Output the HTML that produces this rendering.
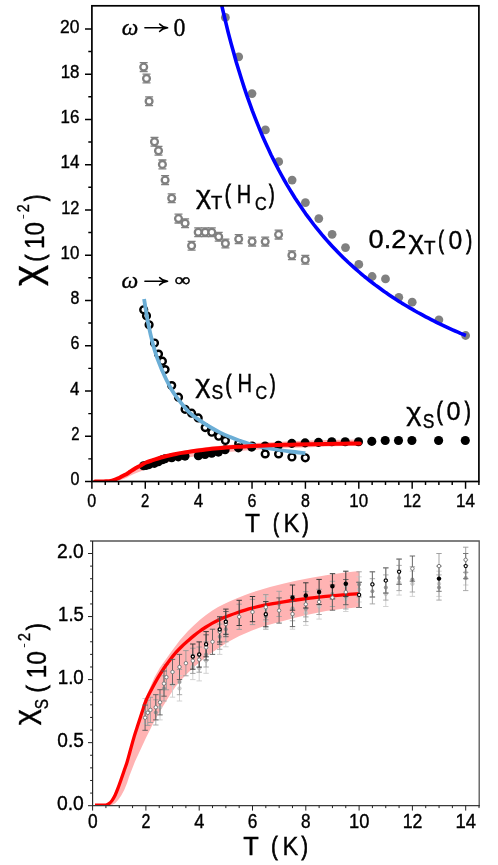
<!DOCTYPE html><html><head><meta charset="utf-8"><style>html,body{margin:0;padding:0;background:#fff}svg{display:block;will-change:transform}</style></head><body><svg width="498" height="865" viewBox="0 0 498 865">
<rect width="498" height="865" fill="#fff"/>
<clipPath id="ct"><rect x="91.9" y="5.8" width="387.0" height="475.7"/></clipPath>
<g clip-path="url(#ct)">
<polygon points="104.0,481.5 107.5,481.2 110.5,480.7 113.8,479.6 116.9,478.3 119.9,476.8 122.9,475.2 125.9,473.7 128.9,471.8 133.2,469.0 137.1,466.9 140.9,464.7 144.8,462.5 149.6,460.4 154.4,458.5 160.0,456.7 165.9,455.2 172.5,453.6 180.0,451.8 188.0,450.1 194.0,449.1 200.0,448.1 206.0,447.3 212.0,446.5 218.1,445.9 224.1,445.3 230.0,444.8 237.0,444.3 245.1,443.7 252.0,443.2 260.0,442.8 270.0,442.3 285.0,441.6 296.0,441.1 310.0,440.6 326.0,440.1 343.0,439.7 359.3,439.4 359.3,445.9 343.0,446.1 326.0,446.6 310.0,447.2 296.0,447.7 285.0,448.2 270.0,449.0 260.0,449.5 252.0,450.1 239.3,451.0 228.0,452.1 219.9,453.1 212.0,454.0 206.0,454.8 200.1,455.7 194.1,456.6 188.0,457.6 182.0,458.8 176.0,460.0 170.1,461.6 165.9,462.8 158.0,465.1 151.9,467.2 146.0,469.3 140.8,471.3 135.0,473.6 129.0,476.3 127.1,477.4 124.1,478.7 121.1,479.7 118.1,480.5 115.1,481.1 112.0,481.4 109.0,481.5" fill="#ffb3b3"/>
<circle cx="225.4" cy="17.4" r="4.4" fill="#808080"/>
<circle cx="238.7" cy="56.8" r="4.4" fill="#808080"/>
<circle cx="252.0" cy="93.6" r="4.4" fill="#808080"/>
<circle cx="265.4" cy="129.9" r="4.4" fill="#808080"/>
<circle cx="278.7" cy="161.7" r="4.4" fill="#808080"/>
<circle cx="292.1" cy="180.1" r="4.4" fill="#808080"/>
<circle cx="305.4" cy="202.6" r="4.4" fill="#808080"/>
<circle cx="318.8" cy="218.6" r="4.4" fill="#808080"/>
<circle cx="332.1" cy="234.3" r="4.4" fill="#808080"/>
<circle cx="345.5" cy="247.6" r="4.4" fill="#808080"/>
<circle cx="358.8" cy="264.4" r="4.4" fill="#808080"/>
<circle cx="372.1" cy="276.5" r="4.4" fill="#808080"/>
<circle cx="385.5" cy="278.9" r="4.4" fill="#808080"/>
<circle cx="398.8" cy="297.3" r="4.4" fill="#808080"/>
<circle cx="412.2" cy="302.2" r="4.4" fill="#808080"/>
<circle cx="438.9" cy="319.8" r="4.4" fill="#808080"/>
<circle cx="465.6" cy="335.5" r="4.4" fill="#808080"/>
<path d="M139.7 62.7h8M139.7 71.5h8" stroke="#808080" stroke-width="1.3" fill="none"/>
<circle cx="143.7" cy="67.1" r="3.4" fill="#fff" stroke="#808080" stroke-width="2.3"/>
<path d="M142.5 74.1h8M142.5 82.9h8" stroke="#808080" stroke-width="1.3" fill="none"/>
<circle cx="146.5" cy="78.5" r="3.4" fill="#fff" stroke="#808080" stroke-width="2.3"/>
<path d="M145.1 96.8h8M145.1 105.6h8" stroke="#808080" stroke-width="1.3" fill="none"/>
<circle cx="149.1" cy="101.2" r="3.4" fill="#fff" stroke="#808080" stroke-width="2.3"/>
<path d="M150.5 137.4h8M150.5 146.2h8" stroke="#808080" stroke-width="1.3" fill="none"/>
<circle cx="154.5" cy="141.8" r="3.4" fill="#fff" stroke="#808080" stroke-width="2.3"/>
<path d="M154.5 146.4h8M154.5 155.2h8" stroke="#808080" stroke-width="1.3" fill="none"/>
<circle cx="158.5" cy="150.8" r="3.4" fill="#fff" stroke="#808080" stroke-width="2.3"/>
<path d="M158.4 160.0h8M158.4 168.8h8" stroke="#808080" stroke-width="1.3" fill="none"/>
<circle cx="162.4" cy="164.4" r="3.4" fill="#fff" stroke="#808080" stroke-width="2.3"/>
<path d="M161.1 175.7h8M161.1 184.5h8" stroke="#808080" stroke-width="1.3" fill="none"/>
<circle cx="165.1" cy="180.1" r="3.4" fill="#fff" stroke="#808080" stroke-width="2.3"/>
<path d="M167.7 193.8h8M167.7 202.6h8" stroke="#808080" stroke-width="1.3" fill="none"/>
<circle cx="171.7" cy="198.2" r="3.4" fill="#fff" stroke="#808080" stroke-width="2.3"/>
<path d="M174.5 214.2h8M174.5 223.0h8" stroke="#808080" stroke-width="1.3" fill="none"/>
<circle cx="178.5" cy="218.6" r="3.4" fill="#fff" stroke="#808080" stroke-width="2.3"/>
<path d="M181.1 218.9h8M181.1 227.7h8" stroke="#808080" stroke-width="1.3" fill="none"/>
<circle cx="185.1" cy="223.3" r="3.4" fill="#fff" stroke="#808080" stroke-width="2.3"/>
<path d="M187.6 241.3h8M187.6 250.1h8" stroke="#808080" stroke-width="1.3" fill="none"/>
<circle cx="191.6" cy="245.7" r="3.4" fill="#fff" stroke="#808080" stroke-width="2.3"/>
<path d="M194.2 227.9h8M194.2 236.7h8" stroke="#808080" stroke-width="1.3" fill="none"/>
<circle cx="198.2" cy="232.3" r="3.4" fill="#fff" stroke="#808080" stroke-width="2.3"/>
<path d="M201.2 227.9h8M201.2 236.7h8" stroke="#808080" stroke-width="1.3" fill="none"/>
<circle cx="205.2" cy="232.3" r="3.4" fill="#fff" stroke="#808080" stroke-width="2.3"/>
<path d="M207.8 227.9h8M207.8 236.7h8" stroke="#808080" stroke-width="1.3" fill="none"/>
<circle cx="211.8" cy="232.3" r="3.4" fill="#fff" stroke="#808080" stroke-width="2.3"/>
<path d="M214.7 232.3h8M214.7 241.1h8" stroke="#808080" stroke-width="1.3" fill="none"/>
<circle cx="218.7" cy="236.7" r="3.4" fill="#fff" stroke="#808080" stroke-width="2.3"/>
<path d="M221.4 239.1h8M221.4 247.9h8" stroke="#808080" stroke-width="1.3" fill="none"/>
<circle cx="225.4" cy="243.5" r="3.4" fill="#fff" stroke="#808080" stroke-width="2.3"/>
<path d="M234.7 234.7h8M234.7 243.5h8" stroke="#808080" stroke-width="1.3" fill="none"/>
<circle cx="238.7" cy="239.1" r="3.4" fill="#fff" stroke="#808080" stroke-width="2.3"/>
<path d="M248.1 237.2h8M248.1 246.0h8" stroke="#808080" stroke-width="1.3" fill="none"/>
<circle cx="252.1" cy="241.6" r="3.4" fill="#fff" stroke="#808080" stroke-width="2.3"/>
<path d="M261.2 237.2h8M261.2 246.0h8" stroke="#808080" stroke-width="1.3" fill="none"/>
<circle cx="265.2" cy="241.6" r="3.4" fill="#fff" stroke="#808080" stroke-width="2.3"/>
<path d="M274.6 230.2h8M274.6 239.0h8" stroke="#808080" stroke-width="1.3" fill="none"/>
<circle cx="278.6" cy="234.6" r="3.4" fill="#fff" stroke="#808080" stroke-width="2.3"/>
<path d="M287.9 250.9h8M287.9 259.7h8" stroke="#808080" stroke-width="1.3" fill="none"/>
<circle cx="291.9" cy="255.3" r="3.4" fill="#fff" stroke="#808080" stroke-width="2.3"/>
<path d="M301.3 255.3h8M301.3 264.1h8" stroke="#808080" stroke-width="1.3" fill="none"/>
<circle cx="305.3" cy="259.7" r="3.4" fill="#fff" stroke="#808080" stroke-width="2.3"/>
<circle cx="143.7" cy="309.8" r="3.4" fill="#fff" stroke="#000" stroke-width="2.4"/>
<circle cx="146.5" cy="315.8" r="3.4" fill="#fff" stroke="#000" stroke-width="2.4"/>
<circle cx="149.1" cy="324.8" r="3.4" fill="#fff" stroke="#000" stroke-width="2.4"/>
<circle cx="154.5" cy="343.0" r="3.4" fill="#fff" stroke="#000" stroke-width="2.4"/>
<circle cx="158.5" cy="354.1" r="3.4" fill="#fff" stroke="#000" stroke-width="2.4"/>
<circle cx="162.4" cy="361.2" r="3.4" fill="#fff" stroke="#000" stroke-width="2.4"/>
<circle cx="165.1" cy="369.6" r="3.4" fill="#fff" stroke="#000" stroke-width="2.4"/>
<circle cx="171.7" cy="385.6" r="3.4" fill="#fff" stroke="#000" stroke-width="2.4"/>
<circle cx="178.5" cy="397.2" r="3.4" fill="#fff" stroke="#000" stroke-width="2.4"/>
<circle cx="185.1" cy="409.3" r="3.4" fill="#fff" stroke="#000" stroke-width="2.4"/>
<circle cx="191.6" cy="413.2" r="3.4" fill="#fff" stroke="#000" stroke-width="2.4"/>
<circle cx="198.2" cy="417.9" r="3.4" fill="#fff" stroke="#000" stroke-width="2.4"/>
<circle cx="205.2" cy="427.6" r="3.4" fill="#fff" stroke="#000" stroke-width="2.4"/>
<circle cx="211.8" cy="432.2" r="3.4" fill="#fff" stroke="#000" stroke-width="2.4"/>
<circle cx="218.7" cy="436.2" r="3.4" fill="#fff" stroke="#000" stroke-width="2.4"/>
<circle cx="225.4" cy="440.5" r="3.4" fill="#fff" stroke="#000" stroke-width="2.4"/>
<circle cx="238.7" cy="443.6" r="3.4" fill="#fff" stroke="#000" stroke-width="2.4"/>
<circle cx="252.1" cy="446.0" r="3.4" fill="#fff" stroke="#000" stroke-width="2.4"/>
<circle cx="265.2" cy="453.9" r="3.4" fill="#fff" stroke="#000" stroke-width="2.4"/>
<circle cx="278.6" cy="453.9" r="3.4" fill="#fff" stroke="#000" stroke-width="2.4"/>
<circle cx="291.9" cy="457.0" r="3.4" fill="#fff" stroke="#000" stroke-width="2.4"/>
<circle cx="305.3" cy="457.8" r="3.4" fill="#fff" stroke="#000" stroke-width="2.4"/>
<circle cx="143.6" cy="465.8" r="4.55" fill="#000"/>
<circle cx="146.3" cy="465.4" r="4.55" fill="#000"/>
<circle cx="149.0" cy="464.6" r="4.55" fill="#000"/>
<circle cx="154.3" cy="463.4" r="4.55" fill="#000"/>
<circle cx="158.3" cy="461.8" r="4.55" fill="#000"/>
<circle cx="162.3" cy="459.8" r="4.55" fill="#000"/>
<circle cx="165.0" cy="458.8" r="4.55" fill="#000"/>
<circle cx="171.7" cy="457.8" r="4.55" fill="#000"/>
<circle cx="178.3" cy="456.9" r="4.55" fill="#000"/>
<circle cx="185.0" cy="456.1" r="4.55" fill="#000"/>
<circle cx="198.4" cy="455.7" r="4.55" fill="#000"/>
<circle cx="205.0" cy="454.5" r="4.55" fill="#000"/>
<circle cx="211.7" cy="453.3" r="4.55" fill="#000"/>
<circle cx="218.4" cy="452.1" r="4.55" fill="#000"/>
<circle cx="225.1" cy="449.7" r="4.55" fill="#000"/>
<circle cx="238.4" cy="447.9" r="4.55" fill="#000"/>
<circle cx="251.7" cy="447.1" r="4.55" fill="#000"/>
<circle cx="265.1" cy="446" r="4.55" fill="#000"/>
<circle cx="278.4" cy="445.2" r="4.55" fill="#000"/>
<circle cx="291.8" cy="443.4" r="4.55" fill="#000"/>
<circle cx="305.1" cy="442.9" r="4.55" fill="#000"/>
<circle cx="318.5" cy="442.4" r="4.55" fill="#000"/>
<circle cx="331.8" cy="441.7" r="4.55" fill="#000"/>
<circle cx="345.2" cy="441.7" r="4.55" fill="#000"/>
<circle cx="358.5" cy="441.7" r="4.55" fill="#000"/>
<circle cx="371.8" cy="441.4" r="4.55" fill="#000"/>
<circle cx="385.2" cy="440.5" r="4.55" fill="#000"/>
<circle cx="398.5" cy="440.5" r="4.55" fill="#000"/>
<circle cx="411.9" cy="440.5" r="4.55" fill="#000"/>
<circle cx="438.6" cy="440.5" r="4.55" fill="#000"/>
<circle cx="465.3" cy="440.5" r="4.55" fill="#000"/>
<polyline points="217.6,-13.3 220.3,-0.9 223.0,10.9 225.7,22.2 228.3,32.9 231.0,43.1 233.7,52.8 236.3,62.2 239.0,71.1 241.7,79.7 244.3,87.9 247.0,95.8 249.7,103.3 252.3,110.6 255.0,117.6 257.7,124.4 260.3,130.9 263.0,137.2 265.7,143.2 268.4,149.0 271.0,154.7 273.7,160.1 276.4,165.4 279.0,170.5 281.7,175.5 284.4,180.3 287.0,184.9 289.7,189.4 292.4,193.8 295.0,198.0 297.7,202.1 300.4,206.1 303.1,210.0 305.7,213.8 308.4,217.4 311.1,221.0 313.7,224.5 316.4,227.9 319.1,231.2 321.7,234.4 324.4,237.5 327.1,240.6 329.7,243.5 332.4,246.4 335.1,249.3 337.7,252.0 340.4,254.7 343.1,257.4 345.8,260.0 348.4,262.5 351.1,264.9 353.8,267.4 356.4,269.7 359.1,272.0 361.8,274.3 364.4,276.5 367.1,278.6 369.8,280.8 372.4,282.8 375.1,284.9 377.8,286.8 380.5,288.8 383.1,290.7 385.8,292.6 388.5,294.4 391.1,296.2 393.8,298.0 396.5,299.7 399.1,301.4 401.8,303.1 404.5,304.7 407.1,306.3 409.8,307.9 412.5,309.4 415.1,311.0 417.8,312.5 420.5,313.9 423.2,315.4 425.8,316.8 428.5,318.2 431.2,319.6 433.8,320.9 436.5,322.3 439.2,323.6 441.8,324.8 444.5,326.1 447.2,327.4 449.8,328.6 452.5,329.8 455.2,331.0 457.9,332.1 460.5,333.3 463.2,334.4 465.9,335.5" fill="none" stroke="#0000ff" stroke-width="3.6" stroke-linecap="butt" stroke-linejoin="round"/>
<path d="M144.10 299.00 C144.42 301.00 145.27 306.65 146.00 311.00 C146.73 315.35 147.38 319.73 148.50 325.10 C149.62 330.47 151.28 337.80 152.70 343.20 C154.12 348.60 155.43 352.98 157.00 357.50 C158.57 362.02 160.52 366.55 162.10 370.30 C163.68 374.05 164.88 376.72 166.50 380.00 C168.12 383.28 170.13 387.17 171.80 390.00 C173.47 392.83 174.80 394.65 176.50 397.00 C178.20 399.35 179.73 401.42 182.00 404.10 C184.27 406.78 187.08 410.35 190.10 413.10 C193.12 415.85 196.78 418.28 200.10 420.60 C203.42 422.92 206.65 425.00 210.00 427.00 C213.35 429.00 216.87 430.93 220.20 432.60 C223.53 434.27 226.65 435.60 230.00 437.00 C233.35 438.40 236.25 439.62 240.30 441.00 C244.35 442.38 248.98 443.97 254.30 445.30 C259.62 446.63 266.25 447.97 272.20 449.00 C278.15 450.03 284.47 450.82 290.00 451.50 C295.53 452.18 302.83 452.83 305.40 453.10" fill="none" stroke="#6baed6" stroke-width="3.8" stroke-linecap="butt"/>
<path d="M95.00 481.41 C96.17 481.41 100.17 481.42 102.00 481.41 C103.83 481.40 104.83 481.42 106.00 481.37 C107.17 481.33 108.00 481.25 109.00 481.12 C110.00 480.99 110.98 480.84 112.00 480.58 C113.02 480.33 114.08 480.00 115.10 479.62 C116.12 479.24 117.10 478.78 118.10 478.31 C119.10 477.84 120.10 477.31 121.10 476.80 C122.10 476.29 123.10 475.76 124.10 475.24 C125.10 474.71 126.12 474.23 127.10 473.66 C128.08 473.08 128.80 472.55 130.00 471.77 C131.20 471.00 132.93 469.83 134.30 469.01 C135.67 468.19 136.90 467.58 138.20 466.86 C139.50 466.14 140.77 465.41 142.10 464.68 C143.43 463.96 144.55 463.24 146.20 462.53 C147.85 461.83 150.03 461.12 152.00 460.45 C153.97 459.78 155.98 459.12 158.00 458.51 C160.02 457.90 162.08 457.32 164.10 456.79 C166.12 456.25 168.12 455.77 170.10 455.30 C172.08 454.83 174.02 454.39 176.00 453.99 C177.98 453.58 180.00 453.22 182.00 452.88 C184.00 452.53 186.00 452.22 188.00 451.91 C190.00 451.59 192.00 451.27 194.00 450.97 C196.00 450.68 198.00 450.41 200.00 450.15 C202.00 449.89 204.00 449.66 206.00 449.43 C208.00 449.20 209.98 448.99 212.00 448.78 C214.02 448.58 216.08 448.39 218.10 448.21 C220.12 448.03 222.12 447.88 224.10 447.73 C226.08 447.58 227.85 447.46 230.00 447.31 C232.15 447.17 234.48 447.02 237.00 446.86 C239.52 446.71 242.60 446.54 245.10 446.40 C247.60 446.26 249.52 446.16 252.00 446.04 C254.48 445.92 257.00 445.82 260.00 445.70 C263.00 445.58 265.83 445.46 270.00 445.32 C274.17 445.18 280.67 444.99 285.00 444.87 C289.33 444.75 291.83 444.69 296.00 444.58 C300.17 444.48 305.00 444.37 310.00 444.26 C315.00 444.15 320.50 444.04 326.00 443.94 C331.50 443.84 337.37 443.74 343.00 443.65 C348.63 443.57 357.00 443.47 359.80 443.44" fill="none" stroke="#ff0000" stroke-width="4" stroke-linecap="round"/>
</g>
<rect x="91.9" y="5.8" width="387.0" height="475.7" fill="none" stroke="#000" stroke-width="1.7"/>
<path d="M91.9 481.50h-6.9M91.9 458.87h-3.6M91.9 436.24h-6.9M91.9 413.61h-3.6M91.9 390.98h-6.9M91.9 368.35h-3.6M91.9 345.72h-6.9M91.9 323.09h-3.6M91.9 300.46h-6.9M91.9 277.83h-3.6M91.9 255.20h-6.9M91.9 232.57h-3.6M91.9 209.94h-6.9M91.9 187.31h-3.6M91.9 164.68h-6.9M91.9 142.05h-3.6M91.9 119.42h-6.9M91.9 96.79h-3.6M91.9 74.16h-6.9M91.9 51.53h-3.6M91.9 28.90h-6.9M91.90 481.5v7.3M105.25 481.5v3.6M118.59 481.5v3.6M131.94 481.5v3.6M145.28 481.5v7.3M158.62 481.5v3.6M171.97 481.5v3.6M185.31 481.5v3.6M198.66 481.5v7.3M212.00 481.5v3.6M225.35 481.5v3.6M238.70 481.5v3.6M252.04 481.5v7.3M265.38 481.5v3.6M278.73 481.5v3.6M292.08 481.5v3.6M305.42 481.5v7.3M318.76 481.5v3.6M332.11 481.5v3.6M345.46 481.5v3.6M358.80 481.5v7.3M372.14 481.5v3.6M385.49 481.5v3.6M398.84 481.5v3.6M412.18 481.5v7.3M425.52 481.5v3.6M438.87 481.5v3.6M452.22 481.5v3.6M465.56 481.5v7.3M478.90 481.5v3.6" stroke="#000" stroke-width="1.45" fill="none"/>
<text transform="matrix(0.1608 0 0 0.1800 70.48 485.17)" font-size="100" style='font-family:"Liberation Sans", sans-serif;font-style:normal' fill="#000" stroke="#000" stroke-width="2.12">0</text>
<text transform="matrix(0.1485 0 0 0.1792 71.16 439.86)" font-size="100" style='font-family:"Liberation Sans", sans-serif;font-style:normal' fill="#000" stroke="#000" stroke-width="2.21">2</text>
<text transform="matrix(0.1689 0 0 0.1787 70.03 394.60)" font-size="100" style='font-family:"Liberation Sans", sans-serif;font-style:normal' fill="#000" stroke="#000" stroke-width="2.07">4</text>
<text transform="matrix(0.1605 0 0 0.1800 70.49 349.39)" font-size="100" style='font-family:"Liberation Sans", sans-serif;font-style:normal' fill="#000" stroke="#000" stroke-width="2.12">6</text>
<text transform="matrix(0.1596 0 0 0.1800 70.55 304.13)" font-size="100" style='font-family:"Liberation Sans", sans-serif;font-style:normal' fill="#000" stroke="#000" stroke-width="2.12">8</text>
<text transform="matrix(0.1692 0 0 0.1800 60.61 258.87)" font-size="100" style='font-family:"Liberation Sans", sans-serif;font-style:normal' fill="#000" stroke="#000" stroke-width="2.06">10</text>
<text transform="matrix(0.1641 0 0 0.1792 61.18 213.56)" font-size="100" style='font-family:"Liberation Sans", sans-serif;font-style:normal' fill="#000" stroke="#000" stroke-width="2.10">12</text>
<text transform="matrix(0.1707 0 0 0.1787 60.44 168.30)" font-size="100" style='font-family:"Liberation Sans", sans-serif;font-style:normal' fill="#000" stroke="#000" stroke-width="2.06">14</text>
<text transform="matrix(0.1696 0 0 0.1800 60.56 123.09)" font-size="100" style='font-family:"Liberation Sans", sans-serif;font-style:normal' fill="#000" stroke="#000" stroke-width="2.06">16</text>
<text transform="matrix(0.1689 0 0 0.1800 60.64 77.83)" font-size="100" style='font-family:"Liberation Sans", sans-serif;font-style:normal' fill="#000" stroke="#000" stroke-width="2.07">18</text>
<text transform="matrix(0.1747 0 0 0.1800 59.99 32.57)" font-size="100" style='font-family:"Liberation Sans", sans-serif;font-style:normal' fill="#000" stroke="#000" stroke-width="2.03">20</text>
<text transform="matrix(0.1608 0 0 0.1800 87.33 506.62)" font-size="100" style='font-family:"Liberation Sans", sans-serif;font-style:normal' fill="#000" stroke="#000" stroke-width="2.12">0</text>
<text transform="matrix(0.1485 0 0 0.1792 141.05 506.57)" font-size="100" style='font-family:"Liberation Sans", sans-serif;font-style:normal' fill="#000" stroke="#000" stroke-width="2.21">2</text>
<text transform="matrix(0.1689 0 0 0.1787 193.86 506.57)" font-size="100" style='font-family:"Liberation Sans", sans-serif;font-style:normal' fill="#000" stroke="#000" stroke-width="2.07">4</text>
<text transform="matrix(0.1605 0 0 0.1800 247.48 506.62)" font-size="100" style='font-family:"Liberation Sans", sans-serif;font-style:normal' fill="#000" stroke="#000" stroke-width="2.12">6</text>
<text transform="matrix(0.1596 0 0 0.1800 300.88 506.62)" font-size="100" style='font-family:"Liberation Sans", sans-serif;font-style:normal' fill="#000" stroke="#000" stroke-width="2.12">8</text>
<text transform="matrix(0.1692 0 0 0.1800 349.29 506.62)" font-size="100" style='font-family:"Liberation Sans", sans-serif;font-style:normal' fill="#000" stroke="#000" stroke-width="2.06">10</text>
<text transform="matrix(0.1641 0 0 0.1792 402.96 506.57)" font-size="100" style='font-family:"Liberation Sans", sans-serif;font-style:normal' fill="#000" stroke="#000" stroke-width="2.10">12</text>
<text transform="matrix(0.1707 0 0 0.1787 455.97 506.57)" font-size="100" style='font-family:"Liberation Sans", sans-serif;font-style:normal' fill="#000" stroke="#000" stroke-width="2.06">14</text>
<text transform="matrix(0.2462 0 0 0.2578 245.08 531.92)" font-size="100" style='font-family:"Liberation Sans", sans-serif;font-style:normal' fill="#000" stroke="#000" stroke-width="1.43">T</text><text transform="matrix(0.1772 0 0 0.2629 273.00 531.66)" font-size="100" style='font-family:"Liberation Sans", sans-serif;font-style:normal' fill="#000" stroke="#000" stroke-width="3.71">(</text><text transform="matrix(0.2390 0 0 0.2578 283.58 531.92)" font-size="100" style='font-family:"Liberation Sans", sans-serif;font-style:normal' fill="#000" stroke="#000" stroke-width="1.45">K</text><text transform="matrix(0.1832 0 0 0.2629 302.60 531.66)" font-size="100" style='font-family:"Liberation Sans", sans-serif;font-style:normal' fill="#000" stroke="#000" stroke-width="3.65">)</text>
<text transform="rotate(-90) matrix(0.4046 0 0 0.3879 -285.92 39.99)" font-size="100" style='font-family:"Liberation Sans", sans-serif;font-style:normal' fill="#000" stroke="#000" stroke-width="0.91">χ</text>
<text transform="rotate(-90) matrix(0.2072 0 0 0.2650 -261.60 44.21)" font-size="100" style='font-family:"Liberation Sans", sans-serif;font-style:normal' fill="#000" stroke="#000" stroke-width="3.41">(</text>
<text transform="rotate(-90) matrix(0.2423 0 0 0.2760 -249.02 44.34)" font-size="100" style='font-family:"Liberation Sans", sans-serif;font-style:normal' fill="#000" stroke="#000" stroke-width="1.39">10</text>
<text transform="rotate(-90) matrix(0.1273 0 0 0.0734 -218.72 24.72)" font-size="100" style='font-family:"Liberation Sans", sans-serif;font-style:normal' fill="#000" stroke="#000" stroke-width="3.72">-</text>
<text transform="rotate(-90) matrix(0.1428 0 0 0.1596 -212.22 28.92)" font-size="100" style='font-family:"Liberation Sans", sans-serif;font-style:normal' fill="#000" stroke="#000" stroke-width="2.38">2</text>
<text transform="rotate(-90) matrix(0.1862 0 0 0.2693 -201.10 44.13)" font-size="100" style='font-family:"Liberation Sans", sans-serif;font-style:normal' fill="#000" stroke="#000" stroke-width="3.57">)</text>
<text transform="matrix(0.2884 0 0 0.2539 195.98 204.26)" font-size="100" style='font-family:"Liberation Sans", sans-serif;font-style:normal' fill="#000" stroke="#000" stroke-width="1.33">χ</text><text transform="matrix(0.1856 0 0 0.1837 210.98 209.12)" font-size="100" style='font-family:"Liberation Sans", sans-serif;font-style:normal' fill="#000" stroke="#000" stroke-width="1.95">T</text><text transform="matrix(0.1832 0 0 0.2629 224.70 203.46)" font-size="100" style='font-family:"Liberation Sans", sans-serif;font-style:normal' fill="#000" stroke="#000" stroke-width="3.65">(</text><text transform="matrix(0.2000 0 0 0.2564 236.78 203.42)" font-size="100" style='font-family:"Liberation Sans", sans-serif;font-style:normal' fill="#000" stroke="#000" stroke-width="1.59">H</text><text transform="matrix(0.1626 0 0 0.1814 254.88 209.84)" font-size="100" style='font-family:"Liberation Sans", sans-serif;font-style:normal' fill="#000" stroke="#000" stroke-width="2.10">C</text><text transform="matrix(0.1652 0 0 0.2629 269.00 203.46)" font-size="100" style='font-family:"Liberation Sans", sans-serif;font-style:normal' fill="#000" stroke="#000" stroke-width="3.84">)</text>
<text transform="matrix(0.2922 0 0 0.2539 195.28 393.36)" font-size="100" style='font-family:"Liberation Sans", sans-serif;font-style:normal' fill="#000" stroke="#000" stroke-width="1.32">χ</text><text transform="matrix(0.1760 0 0 0.1941 211.48 398.93)" font-size="100" style='font-family:"Liberation Sans", sans-serif;font-style:normal' fill="#000" stroke="#000" stroke-width="1.95">S</text><text transform="matrix(0.1772 0 0 0.2629 225.60 392.56)" font-size="100" style='font-family:"Liberation Sans", sans-serif;font-style:normal' fill="#000" stroke="#000" stroke-width="3.71">(</text><text transform="matrix(0.2028 0 0 0.2535 237.58 392.12)" font-size="100" style='font-family:"Liberation Sans", sans-serif;font-style:normal' fill="#000" stroke="#000" stroke-width="1.59">H</text><text transform="matrix(0.1612 0 0 0.1912 255.58 399.33)" font-size="100" style='font-family:"Liberation Sans", sans-serif;font-style:normal' fill="#000" stroke="#000" stroke-width="2.05">C</text><text transform="matrix(0.1652 0 0 0.2629 269.90 392.56)" font-size="100" style='font-family:"Liberation Sans", sans-serif;font-style:normal' fill="#000" stroke="#000" stroke-width="3.84">)</text>
<text transform="matrix(0.2903 0 0 0.2539 406.28 421.36)" font-size="100" style='font-family:"Liberation Sans", sans-serif;font-style:normal' fill="#000" stroke="#000" stroke-width="1.33">χ</text><text transform="matrix(0.1745 0 0 0.1983 422.68 427.52)" font-size="100" style='font-family:"Liberation Sans", sans-serif;font-style:normal' fill="#000" stroke="#000" stroke-width="1.94">S</text><text transform="matrix(0.1862 0 0 0.2586 436.50 419.75)" font-size="100" style='font-family:"Liberation Sans", sans-serif;font-style:normal' fill="#000" stroke="#000" stroke-width="3.65">(</text><text transform="matrix(0.2525 0 0 0.2633 446.48 420.26)" font-size="100" style='font-family:"Liberation Sans", sans-serif;font-style:normal' fill="#000" stroke="#000" stroke-width="1.40">0</text><text transform="matrix(0.1772 0 0 0.2586 464.70 419.75)" font-size="100" style='font-family:"Liberation Sans", sans-serif;font-style:normal' fill="#000" stroke="#000" stroke-width="3.74">)</text>
<text transform="matrix(0.2722 0 0 0.2576 368.58 248.16)" font-size="100" style='font-family:"Liberation Sans", sans-serif;font-style:normal' fill="#000" stroke="#000" stroke-width="1.36">0.2</text><text transform="matrix(0.2941 0 0 0.2592 408.48 249.35)" font-size="100" style='font-family:"Liberation Sans", sans-serif;font-style:normal' fill="#000" stroke="#000" stroke-width="1.30">χ</text><text transform="matrix(0.1889 0 0 0.1765 423.98 254.42)" font-size="100" style='font-family:"Liberation Sans", sans-serif;font-style:normal' fill="#000" stroke="#000" stroke-width="1.97">T</text><text transform="matrix(0.1682 0 0 0.2500 438.20 248.52)" font-size="100" style='font-family:"Liberation Sans", sans-serif;font-style:normal' fill="#000" stroke="#000" stroke-width="3.90">(</text><text transform="matrix(0.2471 0 0 0.2548 448.38 248.57)" font-size="100" style='font-family:"Liberation Sans", sans-serif;font-style:normal' fill="#000" stroke="#000" stroke-width="1.43">0</text><text transform="matrix(0.1772 0 0 0.2500 466.30 248.52)" font-size="100" style='font-family:"Liberation Sans", sans-serif;font-style:normal' fill="#000" stroke="#000" stroke-width="3.80">)</text>
<text transform="matrix(0.2343 0 0 0.2409 121.68 35.48)" font-size="100" style='font-family:"Liberation Serif", serif;font-style:italic' fill="#000" stroke="#000" stroke-width="1.52">ω</text>
<text transform="matrix(0.2388 0 0 0.2495 173.38 35.57)" font-size="100" style='font-family:"Liberation Serif", serif;font-style:normal' fill="#000" stroke="#000" stroke-width="1.47">0</text>
<text transform="matrix(0.2371 0 0 0.2388 121.48 288.38)" font-size="100" style='font-family:"Liberation Serif", serif;font-style:italic' fill="#000" stroke="#000" stroke-width="1.51">ω</text>
<text transform="matrix(0.2216 0 0 0.1792 174.60 285.90)" font-size="100" style='font-family:"Liberation Serif", serif;font-style:normal' fill="#000" stroke="#000" stroke-width="3.01">∞</text>
<path d="M144.9 27.8H167.0M159.6 24.1C161.6 26.3 164.2 27.400000000000002 167.6 27.8C164.2 28.2 161.6 29.3 159.6 31.5" fill="none" stroke="#000" stroke-width="1.55" stroke-linecap="round" stroke-linejoin="round"/>
<path d="M144.9 281.2H167.0M159.6 277.5C161.6 279.7 164.2 280.8 167.6 281.2C164.2 281.59999999999997 161.6 282.7 159.6 284.9" fill="none" stroke="#000" stroke-width="1.55" stroke-linecap="round" stroke-linejoin="round"/>
<clipPath id="cb"><rect x="92.6" y="541.0" width="386.6" height="264.70000000000005"/></clipPath>
<g clip-path="url(#cb)">
<polygon points="104.0,805.7 107.5,804.0 110.5,801.0 113.8,795.2 116.9,787.9 119.9,779.5 122.9,770.8 125.9,762.0 128.9,751.5 133.2,736.1 137.1,724.1 140.9,712.0 144.8,700.0 149.6,688.4 154.4,677.6 160.0,667.6 165.9,659.2 172.5,650.0 180.0,640.0 188.0,631.0 194.0,625.2 200.0,619.8 206.0,615.0 212.0,610.8 218.1,607.1 224.1,604.0 230.0,601.3 237.0,598.3 245.1,595.0 252.0,592.5 260.0,589.9 270.0,587.0 285.0,583.2 296.0,580.8 310.0,578.0 326.0,575.2 343.0,572.8 359.3,570.9 359.3,607.2 343.0,608.7 326.0,611.0 310.0,614.3 296.0,617.6 285.0,620.4 270.0,624.5 260.0,627.6 252.0,630.5 239.3,636.0 228.0,642.0 219.9,647.3 212.0,652.6 206.0,657.0 200.1,661.8 194.1,667.0 188.0,672.8 182.0,679.0 176.0,686.0 170.1,694.8 165.9,701.5 158.0,714.5 151.9,726.0 146.0,737.8 140.8,749.0 135.0,761.5 129.0,777.0 127.1,783.1 124.1,790.3 121.1,795.8 118.1,800.0 115.1,803.3 112.0,805.1 109.0,805.7" fill="#ffb3b3"/>
<path d="M145.1 698.5V723.7M142.4 698.5h5.4M142.4 723.7h5.4" stroke="#cdcdcd" stroke-width="0.9" fill="none"/>
<circle cx="145.1" cy="711.1" r="1.7" fill="#d8d8d8" stroke="#c2c2c2" stroke-width="0.8"/>
<path d="M160.0 694.7V719.9M157.3 694.7h5.4M157.3 719.9h5.4" stroke="#cdcdcd" stroke-width="0.9" fill="none"/>
<circle cx="160.0" cy="707.3" r="1.7" fill="#d8d8d8" stroke="#c2c2c2" stroke-width="0.8"/>
<path d="M172.5 672.0V697.2M169.8 672.0h5.4M169.8 697.2h5.4" stroke="#cdcdcd" stroke-width="0.9" fill="none"/>
<circle cx="172.5" cy="684.6" r="1.7" fill="#d8d8d8" stroke="#c2c2c2" stroke-width="0.8"/>
<path d="M179.5 675.8V701.0M176.8 675.8h5.4M176.8 701.0h5.4" stroke="#cdcdcd" stroke-width="0.9" fill="none"/>
<circle cx="179.5" cy="688.4" r="1.7" fill="#d8d8d8" stroke="#c2c2c2" stroke-width="0.8"/>
<path d="M192.8 654.4V679.6M190.1 654.4h5.4M190.1 679.6h5.4" stroke="#cdcdcd" stroke-width="0.9" fill="none"/>
<circle cx="192.8" cy="667.0" r="1.7" fill="#d8d8d8" stroke="#c2c2c2" stroke-width="0.8"/>
<path d="M199.2 655.7V680.9M196.5 655.7h5.4M196.5 680.9h5.4" stroke="#cdcdcd" stroke-width="0.9" fill="none"/>
<circle cx="199.2" cy="668.3" r="1.7" fill="#d8d8d8" stroke="#c2c2c2" stroke-width="0.8"/>
<path d="M206.1 648.1V673.3M203.4 648.1h5.4M203.4 673.3h5.4" stroke="#cdcdcd" stroke-width="0.9" fill="none"/>
<circle cx="206.1" cy="660.7" r="1.7" fill="#d8d8d8" stroke="#c2c2c2" stroke-width="0.8"/>
<path d="M219.7 629.2V654.4M217.0 629.2h5.4M217.0 654.4h5.4" stroke="#cdcdcd" stroke-width="0.9" fill="none"/>
<circle cx="219.7" cy="641.8" r="1.7" fill="#d8d8d8" stroke="#c2c2c2" stroke-width="0.8"/>
<path d="M225.8 621.6V646.8M223.2 621.6h5.4M223.2 646.8h5.4" stroke="#cdcdcd" stroke-width="0.9" fill="none"/>
<circle cx="225.8" cy="634.2" r="1.7" fill="#d8d8d8" stroke="#c2c2c2" stroke-width="0.8"/>
<path d="M265.8 596.4V621.6M263.1 596.4h5.4M263.1 621.6h5.4" stroke="#cdcdcd" stroke-width="0.9" fill="none"/>
<circle cx="265.8" cy="609.0" r="1.7" fill="#d8d8d8" stroke="#c2c2c2" stroke-width="0.8"/>
<path d="M292.5 604.0V629.2M289.8 604.0h5.4M289.8 629.2h5.4" stroke="#cdcdcd" stroke-width="0.9" fill="none"/>
<circle cx="292.5" cy="616.6" r="1.7" fill="#d8d8d8" stroke="#c2c2c2" stroke-width="0.8"/>
<path d="M305.8 600.2V625.4M303.1 600.2h5.4M303.1 625.4h5.4" stroke="#cdcdcd" stroke-width="0.9" fill="none"/>
<circle cx="305.8" cy="612.8" r="1.7" fill="#d8d8d8" stroke="#c2c2c2" stroke-width="0.8"/>
<path d="M319.1 593.9V619.1M316.4 593.9h5.4M316.4 619.1h5.4" stroke="#cdcdcd" stroke-width="0.9" fill="none"/>
<circle cx="319.1" cy="606.5" r="1.7" fill="#d8d8d8" stroke="#c2c2c2" stroke-width="0.8"/>
<path d="M345.8 586.3V611.5M343.1 586.3h5.4M343.1 611.5h5.4" stroke="#cdcdcd" stroke-width="0.9" fill="none"/>
<circle cx="345.8" cy="598.9" r="1.7" fill="#d8d8d8" stroke="#c2c2c2" stroke-width="0.8"/>
<path d="M359.1 576.8V602.0M356.4 576.8h5.4M356.4 602.0h5.4" stroke="#cdcdcd" stroke-width="0.9" fill="none"/>
<circle cx="359.1" cy="589.4" r="1.7" fill="#d8d8d8" stroke="#c2c2c2" stroke-width="0.8"/>
<path d="M385.8 581.3V606.5M383.1 581.3h5.4M383.1 606.5h5.4" stroke="#cdcdcd" stroke-width="0.9" fill="none"/>
<circle cx="385.8" cy="593.9" r="1.7" fill="#d8d8d8" stroke="#c2c2c2" stroke-width="0.8"/>
<path d="M399.1 569.9V595.1M396.4 569.9h5.4M396.4 595.1h5.4" stroke="#cdcdcd" stroke-width="0.9" fill="none"/>
<circle cx="399.1" cy="582.5" r="1.7" fill="#d8d8d8" stroke="#c2c2c2" stroke-width="0.8"/>
<path d="M412.4 571.2V596.4M409.7 571.2h5.4M409.7 596.4h5.4" stroke="#cdcdcd" stroke-width="0.9" fill="none"/>
<circle cx="412.4" cy="583.8" r="1.7" fill="#d8d8d8" stroke="#c2c2c2" stroke-width="0.8"/>
<path d="M439.0 571.2V596.4M436.3 571.2h5.4M436.3 596.4h5.4" stroke="#cdcdcd" stroke-width="0.9" fill="none"/>
<circle cx="439.0" cy="583.8" r="1.7" fill="#d8d8d8" stroke="#c2c2c2" stroke-width="0.8"/>
<path d="M465.7 559.8V585.0M463.0 559.8h5.4M463.0 585.0h5.4" stroke="#cdcdcd" stroke-width="0.9" fill="none"/>
<circle cx="465.7" cy="572.4" r="1.7" fill="#d8d8d8" stroke="#c2c2c2" stroke-width="0.8"/>
<path d="M155.8 699.8V725.0M153.1 699.8h5.4M153.1 725.0h5.4" stroke="#a2a2a2" stroke-width="0.9" fill="none"/>
<circle cx="155.8" cy="712.4" r="2.0" fill="#999"/>
<path d="M164.0 675.8V701.0M161.3 675.8h5.4M161.3 701.0h5.4" stroke="#a2a2a2" stroke-width="0.9" fill="none"/>
<circle cx="164.0" cy="688.4" r="2.0" fill="#999"/>
<path d="M179.5 669.5V694.7M176.8 669.5h5.4M176.8 694.7h5.4" stroke="#a2a2a2" stroke-width="0.9" fill="none"/>
<circle cx="179.5" cy="682.1" r="2.0" fill="#999"/>
<path d="M206.1 641.8V667.0M203.4 641.8h5.4M203.4 667.0h5.4" stroke="#a2a2a2" stroke-width="0.9" fill="none"/>
<circle cx="206.1" cy="654.4" r="2.0" fill="#999"/>
<path d="M219.7 624.1V649.3M217.0 624.1h5.4M217.0 649.3h5.4" stroke="#a2a2a2" stroke-width="0.9" fill="none"/>
<circle cx="219.7" cy="636.7" r="2.0" fill="#999"/>
<path d="M225.8 616.6V641.8M223.2 616.6h5.4M223.2 641.8h5.4" stroke="#a2a2a2" stroke-width="0.9" fill="none"/>
<circle cx="225.8" cy="629.2" r="2.0" fill="#999"/>
<path d="M265.8 604.0V629.2M263.1 604.0h5.4M263.1 629.2h5.4" stroke="#a2a2a2" stroke-width="0.9" fill="none"/>
<circle cx="265.8" cy="616.6" r="2.0" fill="#999"/>
<path d="M279.1 591.3V616.5M276.4 591.3h5.4M276.4 616.5h5.4" stroke="#a2a2a2" stroke-width="0.9" fill="none"/>
<circle cx="279.1" cy="603.9" r="2.0" fill="#999"/>
<path d="M292.5 595.6V620.8M289.8 595.6h5.4M289.8 620.8h5.4" stroke="#a2a2a2" stroke-width="0.9" fill="none"/>
<circle cx="292.5" cy="608.2" r="2.0" fill="#999"/>
<path d="M305.8 596.4V621.6M303.1 596.4h5.4M303.1 621.6h5.4" stroke="#a2a2a2" stroke-width="0.9" fill="none"/>
<circle cx="305.8" cy="609.0" r="2.0" fill="#999"/>
<path d="M332.4 581.3V606.5M329.8 581.3h5.4M329.8 606.5h5.4" stroke="#a2a2a2" stroke-width="0.9" fill="none"/>
<circle cx="332.4" cy="593.9" r="2.0" fill="#999"/>
<path d="M345.8 583.8V609.0M343.1 583.8h5.4M343.1 609.0h5.4" stroke="#a2a2a2" stroke-width="0.9" fill="none"/>
<circle cx="345.8" cy="596.4" r="2.0" fill="#999"/>
<path d="M359.1 571.8V597.0M356.4 571.8h5.4M356.4 597.0h5.4" stroke="#a2a2a2" stroke-width="0.9" fill="none"/>
<circle cx="359.1" cy="584.4" r="2.0" fill="#999"/>
<path d="M372.4 578.7V603.9M369.7 578.7h5.4M369.7 603.9h5.4" stroke="#a2a2a2" stroke-width="0.9" fill="none"/>
<circle cx="372.4" cy="591.3" r="2.0" fill="#999"/>
<path d="M385.8 574.9V600.1M383.1 574.9h5.4M383.1 600.1h5.4" stroke="#a2a2a2" stroke-width="0.9" fill="none"/>
<circle cx="385.8" cy="587.5" r="2.0" fill="#999"/>
<path d="M399.1 565.4V590.6M396.4 565.4h5.4M396.4 590.6h5.4" stroke="#a2a2a2" stroke-width="0.9" fill="none"/>
<circle cx="399.1" cy="578.0" r="2.0" fill="#999"/>
<path d="M412.4 566.8V592.0M409.7 566.8h5.4M409.7 592.0h5.4" stroke="#a2a2a2" stroke-width="0.9" fill="none"/>
<circle cx="412.4" cy="579.4" r="2.0" fill="#999"/>
<path d="M439.0 574.9V600.1M436.3 574.9h5.4M436.3 600.1h5.4" stroke="#a2a2a2" stroke-width="0.9" fill="none"/>
<circle cx="439.0" cy="587.5" r="2.0" fill="#999"/>
<path d="M465.7 565.4V590.6M463.0 565.4h5.4M463.0 590.6h5.4" stroke="#a2a2a2" stroke-width="0.9" fill="none"/>
<circle cx="465.7" cy="578.0" r="2.0" fill="#999"/>
<path d="M147.8 700.2V725.4M145.1 700.2h5.4M145.1 725.4h5.4" stroke="#999" stroke-width="0.9" fill="none"/>
<path d="M150.4 697.3V722.5M147.7 697.3h5.4M147.7 722.5h5.4" stroke="#999" stroke-width="0.9" fill="none"/>
<path d="M166.4 664.6V689.8M163.7 664.6h5.4M163.7 689.8h5.4" stroke="#999" stroke-width="0.9" fill="none"/>
<path d="M185.9 650.6V675.8M183.2 650.6h5.4M183.2 675.8h5.4" stroke="#999" stroke-width="0.9" fill="none"/>
<path d="M192.8 648.2V673.4M190.1 648.2h5.4M190.1 673.4h5.4" stroke="#999" stroke-width="0.9" fill="none"/>
<path d="M199.2 647.0V672.2M196.5 647.0h5.4M196.5 672.2h5.4" stroke="#999" stroke-width="0.9" fill="none"/>
<path d="M239.2 604.2V629.4M236.5 604.2h5.4M236.5 629.4h5.4" stroke="#999" stroke-width="0.9" fill="none"/>
<path d="M252.5 599.4V624.6M249.8 599.4h5.4M249.8 624.6h5.4" stroke="#999" stroke-width="0.9" fill="none"/>
<path d="M265.8 594.6V619.8M263.1 594.6h5.4M263.1 619.8h5.4" stroke="#999" stroke-width="0.9" fill="none"/>
<path d="M305.8 591.7V616.9M303.1 591.7h5.4M303.1 616.9h5.4" stroke="#999" stroke-width="0.9" fill="none"/>
<path d="M319.1 589.3V614.5M316.4 589.3h5.4M316.4 614.5h5.4" stroke="#999" stroke-width="0.9" fill="none"/>
<path d="M372.4 571.8V597.0M369.7 571.8h5.4M369.7 597.0h5.4" stroke="#999" stroke-width="0.9" fill="none"/>
<path d="M385.8 567.6V592.8M383.1 567.6h5.4M383.1 592.8h5.4" stroke="#999" stroke-width="0.9" fill="none"/>
<path d="M399.1 558.9V584.1M396.4 558.9h5.4M396.4 584.1h5.4" stroke="#999" stroke-width="0.9" fill="none"/>
<path d="M439.0 553.5V578.7M436.3 553.5h5.4M436.3 578.7h5.4" stroke="#999" stroke-width="0.9" fill="none"/>
<path d="M465.7 547.2V572.4M463.0 547.2h5.4M463.0 572.4h5.4" stroke="#999" stroke-width="0.9" fill="none"/>
<path d="M95.00 805.20 C96.17 805.20 100.17 805.23 102.00 805.20 C103.83 805.17 104.83 805.27 106.00 805.00 C107.17 804.73 108.00 804.33 109.00 803.60 C110.00 802.87 110.98 802.00 112.00 800.60 C113.02 799.20 114.08 797.32 115.10 795.20 C116.12 793.08 117.10 790.52 118.10 787.90 C119.10 785.28 120.10 782.35 121.10 779.50 C122.10 776.65 123.10 773.72 124.10 770.80 C125.10 767.88 126.12 765.22 127.10 762.00 C128.08 758.78 128.80 755.82 130.00 751.50 C131.20 747.18 132.93 740.67 134.30 736.10 C135.67 731.53 136.90 728.12 138.20 724.10 C139.50 720.08 140.77 716.02 142.10 712.00 C143.43 707.98 144.55 703.93 146.20 700.00 C147.85 696.07 150.03 692.13 152.00 688.40 C153.97 684.67 155.98 681.00 158.00 677.60 C160.02 674.20 162.08 670.98 164.10 668.00 C166.12 665.02 168.12 662.30 170.10 659.70 C172.08 657.10 174.02 654.65 176.00 652.40 C177.98 650.15 180.00 648.13 182.00 646.20 C184.00 644.27 186.00 642.57 188.00 640.80 C190.00 639.03 192.00 637.23 194.00 635.60 C196.00 633.97 198.00 632.43 200.00 631.00 C202.00 629.57 204.00 628.27 206.00 627.00 C208.00 625.73 209.98 624.53 212.00 623.40 C214.02 622.27 216.08 621.18 218.10 620.20 C220.12 619.22 222.12 618.33 224.10 617.50 C226.08 616.67 227.85 616.00 230.00 615.20 C232.15 614.40 234.48 613.55 237.00 612.70 C239.52 611.85 242.60 610.87 245.10 610.10 C247.60 609.33 249.52 608.75 252.00 608.10 C254.48 607.45 257.00 606.87 260.00 606.20 C263.00 605.53 265.83 604.87 270.00 604.10 C274.17 603.33 280.67 602.28 285.00 601.60 C289.33 600.92 291.83 600.57 296.00 600.00 C300.17 599.43 305.00 598.80 310.00 598.20 C315.00 597.60 320.50 596.97 326.00 596.40 C331.50 595.83 337.37 595.27 343.00 594.80 C348.63 594.33 357.00 593.80 359.80 593.60" fill="none" stroke="#ff0000" stroke-width="3.3" stroke-linecap="butt"/>
<path d="M145.1 705.1V730.3M142.4 705.1h5.4M142.4 730.3h5.4" stroke="#5a5a5a" stroke-width="0.9" fill="none"/>
<path d="M155.8 694.7V719.9M153.1 694.7h5.4M153.1 719.9h5.4" stroke="#5a5a5a" stroke-width="0.9" fill="none"/>
<path d="M160.0 689.7V714.9M157.3 689.7h5.4M157.3 714.9h5.4" stroke="#5a5a5a" stroke-width="0.9" fill="none"/>
<path d="M164.0 671.0V696.2M161.3 671.0h5.4M161.3 696.2h5.4" stroke="#5a5a5a" stroke-width="0.9" fill="none"/>
<path d="M172.5 659.4V684.6M169.8 659.4h5.4M169.8 684.6h5.4" stroke="#5a5a5a" stroke-width="0.9" fill="none"/>
<path d="M179.5 654.4V679.6M176.8 654.4h5.4M176.8 679.6h5.4" stroke="#5a5a5a" stroke-width="0.9" fill="none"/>
<path d="M206.1 634.8V660.0M203.4 634.8h5.4M203.4 660.0h5.4" stroke="#5a5a5a" stroke-width="0.9" fill="none"/>
<path d="M212.5 629.2V654.4M209.8 629.2h5.4M209.8 654.4h5.4" stroke="#5a5a5a" stroke-width="0.9" fill="none"/>
<path d="M219.7 619.1V644.3M217.0 619.1h5.4M217.0 644.3h5.4" stroke="#5a5a5a" stroke-width="0.9" fill="none"/>
<path d="M225.8 611.5V636.7M223.2 611.5h5.4M223.2 636.7h5.4" stroke="#5a5a5a" stroke-width="0.9" fill="none"/>
<path d="M279.1 597.9V623.1M276.4 597.9h5.4M276.4 623.1h5.4" stroke="#5a5a5a" stroke-width="0.9" fill="none"/>
<path d="M292.5 601.4V626.6M289.8 601.4h5.4M289.8 626.6h5.4" stroke="#5a5a5a" stroke-width="0.9" fill="none"/>
<path d="M332.4 585.0V610.2M329.8 585.0h5.4M329.8 610.2h5.4" stroke="#5a5a5a" stroke-width="0.9" fill="none"/>
<path d="M345.8 579.5V604.7M343.1 579.5h5.4M343.1 604.7h5.4" stroke="#5a5a5a" stroke-width="0.9" fill="none"/>
<path d="M359.1 582.3V607.5M356.4 582.3h5.4M356.4 607.5h5.4" stroke="#5a5a5a" stroke-width="0.9" fill="none"/>
<path d="M412.4 556.0V581.2M409.7 556.0h5.4M409.7 581.2h5.4" stroke="#5a5a5a" stroke-width="0.9" fill="none"/>
<path d="M192.8 644.0V669.2M190.1 644.0h5.4M190.1 669.2h5.4" stroke="#3a3a3a" stroke-width="1.0" fill="none"/>
<path d="M199.2 641.9V667.1M196.5 641.9h5.4M196.5 667.1h5.4" stroke="#3a3a3a" stroke-width="1.0" fill="none"/>
<path d="M206.1 631.6V656.8M203.4 631.6h5.4M203.4 656.8h5.4" stroke="#3a3a3a" stroke-width="1.0" fill="none"/>
<path d="M219.7 616.8V642.0M217.0 616.8h5.4M217.0 642.0h5.4" stroke="#3a3a3a" stroke-width="1.0" fill="none"/>
<path d="M225.8 609.1V634.3M223.2 609.1h5.4M223.2 634.3h5.4" stroke="#3a3a3a" stroke-width="1.0" fill="none"/>
<path d="M239.2 600.3V625.5M236.5 600.3h5.4M236.5 625.5h5.4" stroke="#3a3a3a" stroke-width="1.0" fill="none"/>
<path d="M252.5 596.5V621.7M249.8 596.5h5.4M249.8 621.7h5.4" stroke="#3a3a3a" stroke-width="1.0" fill="none"/>
<path d="M265.8 601.6V626.8M263.1 601.6h5.4M263.1 626.8h5.4" stroke="#3a3a3a" stroke-width="1.0" fill="none"/>
<path d="M292.5 585.0V610.2M289.8 585.0h5.4M289.8 610.2h5.4" stroke="#3a3a3a" stroke-width="1.0" fill="none"/>
<path d="M305.8 582.8V608.0M303.1 582.8h5.4M303.1 608.0h5.4" stroke="#3a3a3a" stroke-width="1.0" fill="none"/>
<path d="M319.1 579.4V604.6M316.4 579.4h5.4M316.4 604.6h5.4" stroke="#3a3a3a" stroke-width="1.0" fill="none"/>
<path d="M332.4 573.7V598.9M329.8 573.7h5.4M329.8 598.9h5.4" stroke="#3a3a3a" stroke-width="1.0" fill="none"/>
<path d="M345.8 571.2V596.4M343.1 571.2h5.4M343.1 596.4h5.4" stroke="#3a3a3a" stroke-width="1.0" fill="none"/>
<path d="M359.1 582.3V607.5M356.4 582.3h5.4M356.4 607.5h5.4" stroke="#777" stroke-width="1.0" fill="none"/>
<path d="M372.4 571.8V597.0M369.7 571.8h5.4M369.7 597.0h5.4" stroke="#777" stroke-width="1.0" fill="none"/>
<path d="M385.8 568.0V593.2M383.1 568.0h5.4M383.1 593.2h5.4" stroke="#777" stroke-width="1.0" fill="none"/>
<path d="M399.1 559.2V584.4M396.4 559.2h5.4M396.4 584.4h5.4" stroke="#777" stroke-width="1.0" fill="none"/>
<path d="M439.0 566.1V591.3M436.3 566.1h5.4M436.3 591.3h5.4" stroke="#777" stroke-width="1.0" fill="none"/>
<path d="M465.7 553.5V578.7M463.0 553.5h5.4M463.0 578.7h5.4" stroke="#777" stroke-width="1.0" fill="none"/>
<circle cx="145.1" cy="717.7" r="1.75" fill="#fff" stroke="#707070" stroke-width="0.9"/>
<circle cx="147.8" cy="712.8" r="1.75" fill="#fff" stroke="#707070" stroke-width="0.9"/>
<circle cx="150.4" cy="709.9" r="1.75" fill="#fff" stroke="#707070" stroke-width="0.9"/>
<circle cx="155.8" cy="707.3" r="1.75" fill="#fff" stroke="#707070" stroke-width="0.9"/>
<circle cx="160.0" cy="702.3" r="1.75" fill="#fff" stroke="#707070" stroke-width="0.9"/>
<circle cx="164.0" cy="683.6" r="1.75" fill="#fff" stroke="#707070" stroke-width="0.9"/>
<circle cx="166.4" cy="677.2" r="1.75" fill="#fff" stroke="#707070" stroke-width="0.9"/>
<circle cx="172.5" cy="672.0" r="1.75" fill="#fff" stroke="#707070" stroke-width="0.9"/>
<circle cx="179.5" cy="667.0" r="1.75" fill="#fff" stroke="#707070" stroke-width="0.9"/>
<circle cx="185.9" cy="663.2" r="1.75" fill="#fff" stroke="#707070" stroke-width="0.9"/>
<circle cx="192.8" cy="660.8" r="1.75" fill="#fff" stroke="#707070" stroke-width="0.9"/>
<circle cx="199.2" cy="659.6" r="1.75" fill="#fff" stroke="#707070" stroke-width="0.9"/>
<circle cx="206.1" cy="647.4" r="1.75" fill="#fff" stroke="#707070" stroke-width="0.9"/>
<circle cx="212.5" cy="641.8" r="1.75" fill="#fff" stroke="#707070" stroke-width="0.9"/>
<circle cx="219.7" cy="631.7" r="1.75" fill="#fff" stroke="#707070" stroke-width="0.9"/>
<circle cx="225.8" cy="624.1" r="1.75" fill="#fff" stroke="#707070" stroke-width="0.9"/>
<circle cx="239.2" cy="616.8" r="1.75" fill="#fff" stroke="#707070" stroke-width="0.9"/>
<circle cx="252.5" cy="612.0" r="1.75" fill="#fff" stroke="#707070" stroke-width="0.9"/>
<circle cx="265.8" cy="607.2" r="1.75" fill="#fff" stroke="#707070" stroke-width="0.9"/>
<circle cx="279.1" cy="610.5" r="1.75" fill="#fff" stroke="#707070" stroke-width="0.9"/>
<circle cx="292.5" cy="614.0" r="1.75" fill="#fff" stroke="#707070" stroke-width="0.9"/>
<circle cx="305.8" cy="604.3" r="1.75" fill="#fff" stroke="#707070" stroke-width="0.9"/>
<circle cx="319.1" cy="601.9" r="1.75" fill="#fff" stroke="#707070" stroke-width="0.9"/>
<circle cx="332.4" cy="597.6" r="1.75" fill="#fff" stroke="#707070" stroke-width="0.9"/>
<circle cx="345.8" cy="592.1" r="1.75" fill="#fff" stroke="#707070" stroke-width="0.9"/>
<circle cx="359.1" cy="594.9" r="1.75" fill="#fff" stroke="#707070" stroke-width="0.9"/>
<circle cx="372.4" cy="584.4" r="1.75" fill="#fff" stroke="#707070" stroke-width="0.9"/>
<circle cx="385.8" cy="580.2" r="1.75" fill="#fff" stroke="#707070" stroke-width="0.9"/>
<circle cx="399.1" cy="571.5" r="1.75" fill="#fff" stroke="#707070" stroke-width="0.9"/>
<circle cx="412.4" cy="568.6" r="1.75" fill="#fff" stroke="#707070" stroke-width="0.9"/>
<circle cx="439.0" cy="566.1" r="1.75" fill="#fff" stroke="#707070" stroke-width="0.9"/>
<circle cx="465.7" cy="559.8" r="1.75" fill="#fff" stroke="#707070" stroke-width="0.9"/>
<circle cx="192.8" cy="656.6" r="1.6" fill="#fff" stroke="#000" stroke-width="1.3"/>
<circle cx="199.2" cy="654.5" r="1.6" fill="#fff" stroke="#000" stroke-width="1.3"/>
<circle cx="206.1" cy="644.2" r="1.6" fill="#fff" stroke="#000" stroke-width="1.3"/>
<circle cx="219.7" cy="629.4" r="1.6" fill="#fff" stroke="#000" stroke-width="1.3"/>
<circle cx="225.8" cy="621.7" r="1.6" fill="#fff" stroke="#000" stroke-width="1.3"/>
<circle cx="265.8" cy="614.2" r="1.6" fill="#fff" stroke="#000" stroke-width="1.3"/>
<circle cx="292.5" cy="597.6" r="1.6" fill="#000" stroke="#000" stroke-width="1.3"/>
<circle cx="305.8" cy="595.4" r="1.6" fill="#000" stroke="#000" stroke-width="1.3"/>
<circle cx="319.1" cy="592.0" r="1.6" fill="#000" stroke="#000" stroke-width="1.3"/>
<circle cx="332.4" cy="586.3" r="1.6" fill="#000" stroke="#000" stroke-width="1.3"/>
<circle cx="345.8" cy="583.8" r="1.6" fill="#000" stroke="#000" stroke-width="1.3"/>
<circle cx="359.1" cy="594.9" r="1.6" fill="#fff" stroke="#000" stroke-width="1.1"/>
<circle cx="372.4" cy="584.4" r="1.6" fill="#fff" stroke="#000" stroke-width="1.1"/>
<circle cx="385.8" cy="580.6" r="1.6" fill="#fff" stroke="#000" stroke-width="1.1"/>
<circle cx="399.1" cy="571.8" r="1.6" fill="#fff" stroke="#000" stroke-width="1.1"/>
<circle cx="439.0" cy="578.7" r="1.6" fill="#000" stroke="#000" stroke-width="1.1"/>
<circle cx="465.7" cy="566.1" r="1.6" fill="#fff" stroke="#000" stroke-width="1.1"/>
</g>
<path d="M90.0 541.0H479.84999999999997M479.2 541.0V806.3000000000001" fill="none" stroke="#555" stroke-width="1.3"/>
<path d="M92.6 541.0V805.7" fill="none" stroke="#222" stroke-width="1.15"/>
<path d="M92.1 805.7H479.8" fill="none" stroke="#3a3a3a" stroke-width="1.3"/>
<path d="M92.6 805.70h-4.6M92.6 793.09h-2.5M92.6 780.48h-2.5M92.6 767.87h-2.5M92.6 755.26h-2.5M92.6 742.65h-4.6M92.6 730.04h-2.5M92.6 717.43h-2.5M92.6 704.82h-2.5M92.6 692.21h-2.5M92.6 679.60h-4.6M92.6 666.99h-2.5M92.6 654.38h-2.5M92.6 641.77h-2.5M92.6 629.16h-2.5M92.6 616.55h-4.6M92.6 603.94h-2.5M92.6 591.33h-2.5M92.6 578.72h-2.5M92.6 566.11h-2.5M92.6 553.50h-4.6M92.60 805.7v4.9M105.92 805.7v2.4M119.25 805.7v2.4M132.57 805.7v2.4M145.90 805.7v4.9M159.22 805.7v2.4M172.55 805.7v2.4M185.88 805.7v2.4M199.20 805.7v4.9M212.52 805.7v2.4M225.85 805.7v2.4M239.17 805.7v2.4M252.50 805.7v4.9M265.82 805.7v2.4M279.15 805.7v2.4M292.48 805.7v2.4M305.80 805.7v4.9M319.12 805.7v2.4M332.45 805.7v2.4M345.77 805.7v2.4M359.10 805.7v4.9M372.42 805.7v2.4M385.75 805.7v2.4M399.07 805.7v2.4M412.40 805.7v4.9M425.73 805.7v2.4M439.05 805.7v2.4M452.38 805.7v2.4M465.70 805.7v4.9M479.02 805.7v2.4" stroke="#222" stroke-width="1.0" fill="none"/>
<text transform="matrix(0.1933 0 0 0.1948 56.95 810.43)" font-size="100" style='font-family:"Liberation Sans", sans-serif;font-style:normal' fill="#000" stroke="#000" stroke-width="1.86">0.0</text>
<text transform="matrix(0.1909 0 0 0.1948 57.29 747.38)" font-size="100" style='font-family:"Liberation Sans", sans-serif;font-style:normal' fill="#000" stroke="#000" stroke-width="1.87">0.5</text>
<text transform="matrix(0.1876 0 0 0.1948 57.74 684.33)" font-size="100" style='font-family:"Liberation Sans", sans-serif;font-style:normal' fill="#000" stroke="#000" stroke-width="1.88">1.0</text>
<text transform="matrix(0.1851 0 0 0.1942 58.09 621.28)" font-size="100" style='font-family:"Liberation Sans", sans-serif;font-style:normal' fill="#000" stroke="#000" stroke-width="1.90">1.5</text>
<text transform="matrix(0.1924 0 0 0.1948 57.07 558.23)" font-size="100" style='font-family:"Liberation Sans", sans-serif;font-style:normal' fill="#000" stroke="#000" stroke-width="1.86">2.0</text>
<text transform="matrix(0.1734 0 0 0.1948 87.88 827.83)" font-size="100" style='font-family:"Liberation Sans", sans-serif;font-style:normal' fill="#000" stroke="#000" stroke-width="1.96">0</text>
<text transform="matrix(0.1601 0 0 0.1940 141.55 827.77)" font-size="100" style='font-family:"Liberation Sans", sans-serif;font-style:normal' fill="#000" stroke="#000" stroke-width="2.04">2</text>
<text transform="matrix(0.1822 0 0 0.1934 194.24 827.77)" font-size="100" style='font-family:"Liberation Sans", sans-serif;font-style:normal' fill="#000" stroke="#000" stroke-width="1.92">4</text>
<text transform="matrix(0.1731 0 0 0.1948 247.79 827.83)" font-size="100" style='font-family:"Liberation Sans", sans-serif;font-style:normal' fill="#000" stroke="#000" stroke-width="1.96">6</text>
<text transform="matrix(0.1721 0 0 0.1948 301.12 827.83)" font-size="100" style='font-family:"Liberation Sans", sans-serif;font-style:normal' fill="#000" stroke="#000" stroke-width="1.97">8</text>
<text transform="matrix(0.1829 0 0 0.1948 349.03 827.83)" font-size="100" style='font-family:"Liberation Sans", sans-serif;font-style:normal' fill="#000" stroke="#000" stroke-width="1.91">10</text>
<text transform="matrix(0.1773 0 0 0.1940 402.64 827.77)" font-size="100" style='font-family:"Liberation Sans", sans-serif;font-style:normal' fill="#000" stroke="#000" stroke-width="1.94">12</text>
<text transform="matrix(0.1845 0 0 0.1934 455.54 827.77)" font-size="100" style='font-family:"Liberation Sans", sans-serif;font-style:normal' fill="#000" stroke="#000" stroke-width="1.91">14</text>
<text transform="matrix(0.2543 0 0 0.2578 243.28 855.22)" font-size="100" style='font-family:"Liberation Sans", sans-serif;font-style:normal' fill="#000" stroke="#000" stroke-width="1.41">T</text><text transform="matrix(0.1922 0 0 0.2650 271.20 855.11)" font-size="100" style='font-family:"Liberation Sans", sans-serif;font-style:normal' fill="#000" stroke="#000" stroke-width="3.54">(</text><text transform="matrix(0.2375 0 0 0.2578 282.58 855.22)" font-size="100" style='font-family:"Liberation Sans", sans-serif;font-style:normal' fill="#000" stroke="#000" stroke-width="1.45">K</text><text transform="matrix(0.1922 0 0 0.2650 301.40 855.11)" font-size="100" style='font-family:"Liberation Sans", sans-serif;font-style:normal' fill="#000" stroke="#000" stroke-width="3.54">)</text>
<text transform="rotate(-90) matrix(0.3093 0 0 0.2995 -725.22 34.92)" font-size="100" style='font-family:"Liberation Sans", sans-serif;font-style:normal' fill="#000" stroke="#000" stroke-width="1.18">χ</text>
<text transform="rotate(-90) matrix(0.1535 0 0 0.1927 -709.22 47.53)" font-size="100" style='font-family:"Liberation Sans", sans-serif;font-style:normal' fill="#000" stroke="#000" stroke-width="2.09">S</text>
<text transform="rotate(-90) matrix(0.2162 0 0 0.2629 -692.40 44.76)" font-size="100" style='font-family:"Liberation Sans", sans-serif;font-style:normal' fill="#000" stroke="#000" stroke-width="3.36">(</text>
<text transform="rotate(-90) matrix(0.2477 0 0 0.2831 -678.62 45.94)" font-size="100" style='font-family:"Liberation Sans", sans-serif;font-style:normal' fill="#000" stroke="#000" stroke-width="1.36">10</text>
<text transform="rotate(-90) matrix(0.1213 0 0 0.0767 -647.62 26.12)" font-size="100" style='font-family:"Liberation Sans", sans-serif;font-style:normal' fill="#000" stroke="#000" stroke-width="3.73">-</text>
<text transform="rotate(-90) matrix(0.1428 0 0 0.1668 -641.12 30.42)" font-size="100" style='font-family:"Liberation Sans", sans-serif;font-style:normal' fill="#000" stroke="#000" stroke-width="2.33">2</text>
<text transform="rotate(-90) matrix(0.1952 0 0 0.2629 -629.90 44.76)" font-size="100" style='font-family:"Liberation Sans", sans-serif;font-style:normal' fill="#000" stroke="#000" stroke-width="3.53">)</text>
</svg></body></html>
